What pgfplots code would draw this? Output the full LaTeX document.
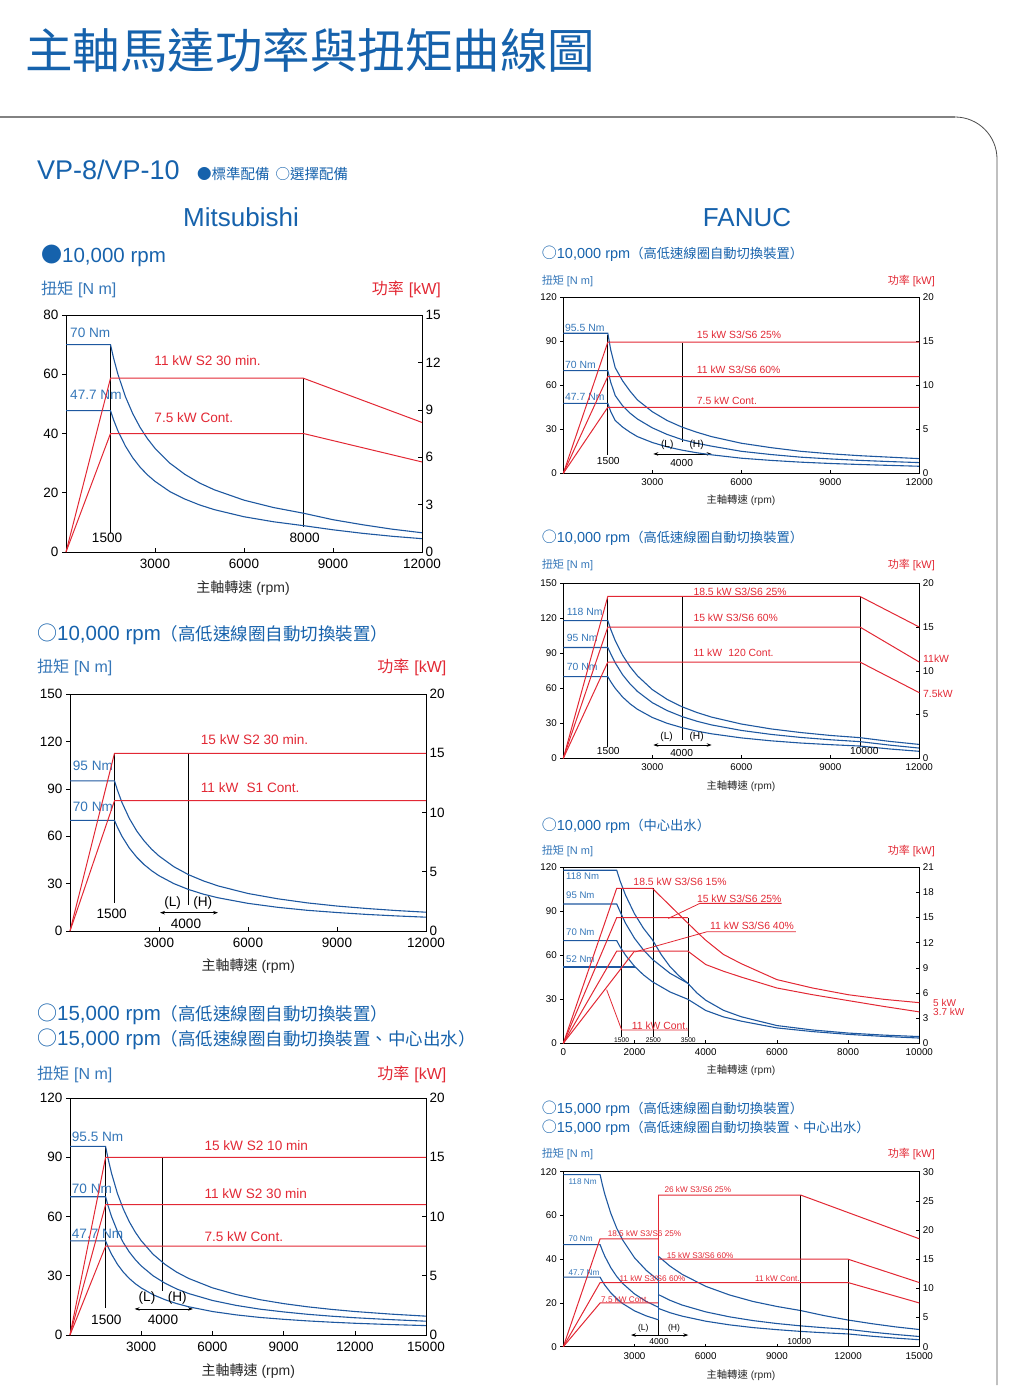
\documentclass[border=0pt]{standalone}
\usepackage{fontspec}
\setmainfont{Liberation Sans}
\newfontfamily\cjk{Noto Sans CJK TC}
\usepackage{graphicx}
\usepackage{pgfplots}
\pgfplotsset{compat=1.18}
\usetikzlibrary{arrows.meta}
\definecolor{tblue}{RGB}{22,98,172}
\definecolor{lblue}{RGB}{52,118,184}
\definecolor{cblue}{RGB}{30,88,160}
\definecolor{cred}{RGB}{226,40,52}
\definecolor{axgray}{RGB}{40,40,40}
\definecolor{frgray}{RGB}{130,130,130}
\newcommand{\fs}[1]{\fontsize{#1pt}{#1pt}\selectfont}
\tikzset{
  L/.style={inner sep=0pt, font=\fs{#1}, anchor=base west, yshift={-0.36*#1pt}},
  C/.style={inner sep=0pt, font=\fs{#1}, anchor=base, yshift={-0.36*#1pt}},
  B/.style={inner sep=0pt, anchor=base west},
  BE/.style={inner sep=0pt, anchor=base east},
  BC/.style={inner sep=0pt, anchor=base},
}
\pgfplotsset{
  every axis/.append style={scale only axis, clip=false, anchor=south west,
    scaled ticks=false,
    axis line style={line width=0.7pt, black},
    every tick/.append style={line width=0.6pt, black},
    /pgf/number format/1000 sep={},
    /pgf/number format/assume math mode=true},
  mit/.style={width=356pt, height=237pt, major tick length=4pt,
    ticklabel style={font=\fs{13.5}}, xticklabel style={yshift=-4pt}},
  fan/.style={width=356pt, height=176pt, major tick length=3pt,
    ticklabel style={font=\fs{9.8}}, xticklabel style={yshift=-2pt}},
  lax/.style={tick pos=left, xtick align=inside, ytick align=outside},
  rax/.style={axis x line=none, axis y line*=right, ytick align=inside},
  bl/.style={cblue, line width=1.1pt},
  rd/.style={cred, line width=1pt},
  bk/.style={black, line width=0.8pt},
  arr/.style={black, line width=0.7pt, arrows={Stealth[length=5pt,width=3.5pt]-Stealth[length=5pt,width=3.5pt]}},
}
\begin{document}
\begin{tikzpicture}
\path[use as bounding box] (0pt,0pt) rectangle (1019pt,-1399pt);
% ---------- page decoration ----------
\node[B, text=tblue, font={\cjk\fs{47.5}}] at (25pt,-68.5pt) {主軸馬達功率與扭矩曲線圖};
\draw[line width=1.6pt, frgray] (0pt,-117pt) -- (955pt,-117pt);
\draw[line width=0.8pt, black!70] (955pt,-117pt) arc[start angle=90,end angle=0,radius=42pt] -- (997pt,-1385pt);
\node[B, text=tblue, font=\fs{27}] at (37pt,-180pt) {VP-8/VP-10};
\node[B, text=tblue, font={\cjk\fs{14.5}}] at (197pt,-179pt) {●標準配備\hspace{6pt}○選擇配備};
\node[BC, text=tblue, font=\fs{26}] at (241pt,-226pt) {Mitsubishi};
\node[BC, text=tblue, font=\fs{26}] at (747pt,-226pt) {FANUC};

% ================= Panel 1 =================
\node[B, text=tblue] at (41pt,-262.5pt) {{\cjk\fs{21}●}{\fs{20.5}10,000 rpm}};
\node[B, text=lblue] at (41pt,-294pt) {\fs{16}{\cjk 扭矩}\hspace{5pt}[N m]};
\node[BE, text=cred] at (441pt,-294pt) {\fs{16}{\cjk 功率}\hspace{5pt}[kW]};
\node[BC, text=axgray] at (243pt,-592pt) {\fs{14}{\cjk 主軸轉速}\hspace{4pt}(rpm)};
\begin{axis}[mit, lax, at={(66pt,-552pt)},
  xmin=0, xmax=12000, ymin=0, ymax=80,
  xtick={3000,6000,9000,12000}, ytick={0,20,40,60,80}]
\addplot[bk] coordinates {(1500,70) (1500,6.4)};
\addplot[bk] coordinates {(8000,58.7) (8000,8.4)};
\addplot[bl] coordinates {(0,70) (1500,70) (1600,65.6) (1750,60) (2000,52.5) (2250,46.7) (2500,42) (2750,38.2) (3000,35) (3500,30) (4000,26.25) (4500,23.3) (5000,21) (6000,17.5) (7000,15) (8000,13.1) (9000,10.9) (10000,9.2) (11000,7.7) (12000,6.5)};
\addplot[bl] coordinates {(0,47.7) (1500,47.7) (1600,44.7) (1750,40.9) (2000,35.8) (2250,31.8) (2500,28.6) (2750,26) (3000,23.85) (3500,20.4) (4000,17.9) (4500,15.9) (5000,14.3) (6000,11.9) (7000,10.2) (8000,8.9) (9000,7.5) (10000,6.3) (11000,5.3) (12000,4.5)};
\node[L=13.6, text=lblue] at (axis cs:135,73.9) {70 Nm};
\node[L=13.6, text=lblue] at (axis cs:135,53) {47.7 Nm};
\node[L=13.6, text=cred] at (axis cs:2975,64.5) {11 kW S2 30 min.};
\node[L=13.6, text=cred] at (axis cs:2975,45.2) {7.5 kW Cont.};
\node[C=13.6] at (axis cs:1386,4.8) {1500};
\node[C=13.6] at (axis cs:8045,4.8) {8000};
\end{axis}
\begin{axis}[mit, rax, at={(66pt,-552pt)},
  xmin=0, xmax=12000, ymin=0, ymax=15, ytick={0,3,6,9,12,15}]
\addplot[rd] coordinates {(0,0) (1500,11) (8000,11) (12000,8.2)};
\addplot[rd] coordinates {(0,0) (1500,7.5) (8000,7.5) (12000,5.7)};
\end{axis}

% ================= Panel 2 =================
\node[B, text=tblue] at (37pt,-640pt) {{\cjk\fs{20}○}{\fs{20.5}10,000 rpm}{\cjk\fs{17.5}（高低速線圈自動切換裝置）}};
\node[B, text=lblue] at (37pt,-672.5pt) {\fs{16}{\cjk 扭矩}\hspace{5pt}[N m]};
\node[BE, text=cred] at (446.5pt,-672.5pt) {\fs{16}{\cjk 功率}\hspace{5pt}[kW]};
\node[BC, text=axgray] at (248.3pt,-970.5pt) {\fs{14}{\cjk 主軸轉速}\hspace{4pt}(rpm)};
\begin{axis}[mit, lax, at={(70pt,-931pt)},
  xmin=0, xmax=12000, ymin=0, ymax=150,
  xtick={3000,6000,9000,12000}, ytick={0,30,60,90,120,150}]
\addplot[bk] coordinates {(1500,112.5) (1500,17.5)};
\addplot[bk] coordinates {(4000,112.5) (4000,16.5)};
\addplot[arr] coordinates {(3034,11.6) (4989,11.6)};
\addplot[bl] coordinates {(0,95) (1500,95) (1600,89.1) (1750,81.4) (2000,71.25) (2250,63.3) (2500,57) (2750,51.8) (3000,47.5) (3500,40.7) (4000,35.6) (4500,31.7) (5000,28.5) (6000,23.75) (7000,20.4) (8000,17.8) (9000,15.8) (10000,14.25) (11000,12.95) (12000,11.9)};
\addplot[bl] coordinates {(0,70) (1500,70) (1600,65.6) (1750,60) (2000,52.5) (2250,46.7) (2500,42) (2750,38.2) (3000,35) (3500,30) (4000,26.25) (4500,23.3) (5000,21) (6000,17.5) (7000,15) (8000,13.1) (9000,11.7) (10000,10.5) (11000,9.55) (12000,8.75)};
\node[L=13.6, text=lblue] at (axis cs:91,104.4) {95 Nm};
\node[L=13.6, text=lblue] at (axis cs:91,78.7) {70 Nm};
\node[L=13.6, text=cred] at (axis cs:4406,120.9) {15 kW S2 30 min.};
\node[L=13.6, text=cred] at (axis cs:4406,90.9) {11 kW\hspace{0.6em}S1 Cont.};
\node[C=13.6] at (axis cs:1405,11.2) {1500};
\node[C=13.6] at (axis cs:3462,18.5) {(L)};
\node[C=13.6] at (axis cs:4473,18.5) {(H)};
\node[C=13.6] at (axis cs:3910,4.9) {4000};
\end{axis}
\begin{axis}[mit, rax, at={(70pt,-931pt)},
  xmin=0, xmax=12000, ymin=0, ymax=20, ytick={0,5,10,15,20}]
\addplot[rd] coordinates {(0,0) (1500,15) (12000,15)};
\addplot[rd] coordinates {(0,0) (1500,11) (12000,11)};
\end{axis}

% ================= Panel 3 =================
\node[B, text=tblue] at (37pt,-1020pt) {{\cjk\fs{20}○}{\fs{20.5}15,000 rpm}{\cjk\fs{17.5}（高低速線圈自動切換裝置）}};
\node[B, text=tblue] at (37pt,-1045pt) {{\cjk\fs{20}○}{\fs{20.5}15,000 rpm}{\cjk\fs{17.5}（高低速線圈自動切換裝置、中心出水）}};
\node[B, text=lblue] at (37pt,-1079pt) {\fs{16}{\cjk 扭矩}\hspace{5pt}[N m]};
\node[BE, text=cred] at (446.5pt,-1079pt) {\fs{16}{\cjk 功率}\hspace{5pt}[kW]};
\node[BC, text=axgray] at (248.3pt,-1375.5pt) {\fs{14}{\cjk 主軸轉速}\hspace{4pt}(rpm)};
\begin{axis}[mit, lax, at={(70pt,-1335pt)},
  xmin=0, xmax=15000, ymin=0, ymax=120,
  xtick={3000,6000,9000,12000,15000}, ytick={0,30,60,90,120}]
\addplot[bk] coordinates {(1500,95.5) (1500,13.7)};
\addplot[bk] coordinates {(3900,90) (3900,22.1)};
\addplot[arr] coordinates {(2725,13.2) (5183,13.2)};
\addplot[bl] coordinates {(0,95.5) (1500,95.5) (1600,89.5) (1750,81.9) (2000,71.6) (2250,63.7) (2500,57.3) (2750,52.1) (3000,47.75) (3500,40.9) (4000,35.8) (4500,31.8) (5000,28.65) (6000,23.9) (7000,20.5) (8000,17.9) (9000,15.9) (10000,14.3) (11000,13) (12000,11.9) (13500,10.6) (15000,9.55)};
\addplot[bl] coordinates {(0,70) (1500,70) (1600,65.6) (1750,60) (2000,52.5) (2250,46.7) (2500,42) (2750,38.2) (3000,35) (3500,30) (4000,26.25) (4500,23.3) (5000,21) (6000,17.5) (7000,15) (8000,13.1) (9000,11.7) (10000,10.5) (11000,9.55) (12000,8.75) (13500,7.8) (15000,7)};
\addplot[bl] coordinates {(0,47.7) (1500,47.7) (1600,44.7) (1750,40.9) (2000,35.8) (2250,31.8) (2500,28.6) (2750,26) (3000,23.85) (3500,20.4) (4000,17.9) (4500,15.9) (5000,14.3) (6000,11.9) (7000,10.2) (8000,8.9) (9000,7.95) (10000,7.15) (11000,6.5) (12000,5.95) (13500,5.3) (15000,4.77)};
\node[L=13.6, text=lblue] at (axis cs:72,100.6) {95.5 Nm};
\node[L=13.6, text=lblue] at (axis cs:72,73.9) {70 Nm};
\node[L=13.6, text=lblue] at (axis cs:72,51.6) {47.7 Nm};
\node[L=13.6, text=cred] at (axis cs:5659,95.9) {15 kW S2 10 min};
\node[L=13.6, text=cred] at (axis cs:5659,71.6) {11 kW S2 30 min};
\node[L=13.6, text=cred] at (axis cs:5659,50) {7.5 kW Cont.};
\node[C=13.6] at (axis cs:1531,7.8) {1500};
\node[C=13.6] at (axis cs:3918,7.8) {4000};
\node[C=13.6] at (axis cs:3244,19.2) {(L)};
\node[C=13.6] at (axis cs:4522,19.2) {(H)};
\end{axis}
\begin{axis}[mit, rax, at={(70pt,-1335pt)},
  xmin=0, xmax=15000, ymin=0, ymax=20, ytick={0,5,10,15,20}]
\addplot[rd] coordinates {(0,0) (1500,15) (15000,15)};
\addplot[rd] coordinates {(0,0) (1500,11) (15000,11)};
\addplot[rd] coordinates {(0,0) (1500,7.5) (15000,7.5)};
\end{axis}

% ================= Panel 4 (FANUC 1) =================
\node[B, text=tblue] at (541.7pt,-258.3pt) {{\cjk\fs{15}○}{\fs{14.5}10,000 rpm}{\cjk\fs{13.3}（高低速線圈自動切換裝置）}};
\node[B, text=lblue] at (541.7pt,-284.5pt) {\fs{11}{\cjk 扭矩}\hspace{3pt}[N m]};
\node[BE, text=cred] at (935pt,-284.5pt) {\fs{11}{\cjk 功率}\hspace{3pt}[kW]};
\node[BC, text=axgray] at (741pt,-503pt) {\fs{10.3}{\cjk 主軸轉速}\hspace{3pt}(rpm)};
\begin{axis}[fan, lax, at={(563.3pt,-473.3pt)},
  xmin=0, xmax=12000, ymin=0, ymax=120,
  xtick={3000,6000,9000,12000}, ytick={0,30,60,90,120}]
\addplot[bk] coordinates {(1500,94.5) (1500,12.5)};
\addplot[bk] coordinates {(4000,89) (4000,21.6)};
\addplot[arr] coordinates {(3034,13.2) (5000,13.2)};
\addplot[bl] coordinates {(0,95.5) (1500,95.5) (1600,84) (1750,72) (2000,63) (2250,56) (2500,50) (3000,42) (3500,36) (4000,31.5) (4500,28) (5000,25) (6000,20.5) (7000,17.5) (8000,15) (9000,13.3) (10000,12) (11000,11) (12000,10)};
\addplot[bl] coordinates {(0,70) (1500,70) (1600,62) (1750,53) (2000,46) (2250,41) (2500,37) (3000,31) (3500,26.5) (4000,23) (4500,20.5) (5000,18.5) (6000,15) (7000,12.8) (8000,11) (9000,9.8) (10000,8.8) (11000,8) (12000,7.3)};
\addplot[bl] coordinates {(0,47.7) (1500,47.7) (1600,42) (1750,36) (2000,31.5) (2250,28) (2500,25) (3000,21) (3500,18) (4000,15.8) (4500,14) (5000,12.6) (6000,10.3) (7000,8.8) (8000,7.6) (9000,6.7) (10000,6) (11000,5.4) (12000,4.8)};
\node[L=10.4, text=lblue] at (axis cs:56,98.9) {95.5 Nm};
\node[L=10.4, text=lblue] at (axis cs:56,73.9) {70 Nm};
\node[L=10.4, text=lblue] at (axis cs:56,52.3) {47.7 Nm};
\node[L=10.4, text=cred] at (axis cs:4494,94.8) {15 kW S3/S6 25\%};
\node[L=10.4, text=cred] at (axis cs:4494,70.9) {11 kW S3/S6 60\%};
\node[L=10.4, text=cred] at (axis cs:4494,49.3) {7.5 kW Cont.};
\node[C=10.2] at (axis cs:1517,8.6) {1500};
\node[C=10.2] at (axis cs:3989,7.3) {4000};
\node[C=10.2] at (axis cs:3506,20) {(L)};
\node[C=10.2] at (axis cs:4494,20) {(H)};
\end{axis}
\begin{axis}[fan, rax, at={(563.3pt,-473.3pt)},
  xmin=0, xmax=12000, ymin=0, ymax=20, ytick={0,5,10,15,20}]
\addplot[rd] coordinates {(0,0) (1500,14.9) (12000,14.9)};
\addplot[rd] coordinates {(0,0) (1500,11) (12000,11)};
\addplot[rd] coordinates {(0,0) (1500,7.5) (12000,7.5)};
\end{axis}

% ================= Panel 5 (FANUC 2) =================
\node[B, text=tblue] at (541.7pt,-542.7pt) {{\cjk\fs{15}○}{\fs{14.5}10,000 rpm}{\cjk\fs{13.3}（高低速線圈自動切換裝置）}};
\node[B, text=lblue] at (541.7pt,-568pt) {\fs{11}{\cjk 扭矩}\hspace{3pt}[N m]};
\node[BE, text=cred] at (935pt,-568pt) {\fs{11}{\cjk 功率}\hspace{3pt}[kW]};
\node[BC, text=axgray] at (741pt,-789pt) {\fs{10.3}{\cjk 主軸轉速}\hspace{3pt}(rpm)};
\node[B, text=cred, font=\fs{10.4}] at (923pt,-662pt) {11kW};
\node[B, text=cred, font=\fs{10.4}] at (923pt,-697pt) {7.5kW};
\begin{axis}[fan, lax, at={(563.3pt,-758.3pt)}, height=175pt,
  xmin=0, xmax=12000, ymin=0, ymax=150,
  xtick={3000,6000,9000,12000}, ytick={0,30,60,90,120,150}]
\addplot[bk] coordinates {(1500,138) (1500,10)};
\addplot[bk] coordinates {(4000,138) (4000,15.7)};
\addplot[bk] coordinates {(10000,138) (10000,10)};
\addplot[arr] coordinates {(3034,11.4) (5000,11.4)};
\addplot[bl] coordinates {(0,118) (1500,118) (1600,110.4) (1750,100.9) (2000,88.3) (2250,78.5) (2500,70.7) (3000,58.9) (3500,50.5) (4000,44.2) (4500,39.3) (5000,35.3) (6000,29.4) (7000,25.2) (8000,22.1) (9000,19.6) (10000,17.7) (11000,14.5) (12000,11.9)};
\addplot[bl] coordinates {(0,95) (1500,95) (1600,89.5) (1750,81.8) (2000,71.6) (2250,63.7) (2500,57.3) (3000,47.7) (3500,40.9) (4000,35.8) (4500,31.8) (5000,28.6) (6000,23.9) (7000,20.5) (8000,17.9) (9000,15.9) (10000,14.3) (11000,11.3) (12000,8.75)};
\addplot[bl] coordinates {(0,70) (1500,70) (1600,65.6) (1750,60) (2000,52.5) (2250,46.7) (2500,42) (3000,35) (3500,30) (4000,26.3) (4500,23.3) (5000,21) (6000,17.5) (7000,15) (8000,13.1) (9000,11.7) (10000,10.5) (11000,8) (12000,6)};
\node[L=10.4, text=lblue] at (axis cs:112,125.7) {118 Nm};
\node[L=10.4, text=lblue] at (axis cs:112,103.4) {95 Nm};
\node[L=10.4, text=lblue] at (axis cs:112,78.6) {70 Nm};
\node[L=10.4, text=cred] at (axis cs:4382,142.9) {18.5 kW S3/S6 25\%};
\node[L=10.4, text=cred] at (axis cs:4382,120.6) {15 kW S3/S6 60\%};
\node[L=10.4, text=cred] at (axis cs:4382,90.6) {11 kW\hspace{0.6em}120 Cont.};
\node[C=10.2] at (axis cs:1517,6.3) {1500};
\node[C=10.2] at (axis cs:3989,4.3) {4000};
\node[C=10.2] at (axis cs:10146,6.3) {10000};
\node[C=10.2] at (axis cs:3483,19.1) {(L)};
\node[C=10.2] at (axis cs:4494,19.1) {(H)};
\end{axis}
\begin{axis}[fan, rax, at={(563.3pt,-758.3pt)}, height=175pt,
  xmin=0, xmax=12000, ymin=0, ymax=20, ytick={0,5,10,15,20}]
\addplot[rd] coordinates {(0,0) (1500,18.5) (10000,18.5) (12000,15)};
\addplot[rd] coordinates {(0,0) (1500,15) (10000,15) (12000,11)};
\addplot[rd] coordinates {(0,0) (1500,11) (10000,11) (12000,7.5)};
\end{axis}

% ================= Panel 6 (FANUC 3) =================
\node[B, text=tblue] at (541.7pt,-830pt) {{\cjk\fs{15}○}{\fs{14.5}10,000 rpm}{\cjk\fs{13.3}（中心出水）}};
\node[B, text=lblue] at (541.7pt,-854pt) {\fs{11}{\cjk 扭矩}\hspace{3pt}[N m]};
\node[BE, text=cred] at (935pt,-854pt) {\fs{11}{\cjk 功率}\hspace{3pt}[kW]};
\node[BC, text=axgray] at (741pt,-1073pt) {\fs{10.3}{\cjk 主軸轉速}\hspace{3pt}(rpm)};
\node[B, text=cred, font=\fs{10}] at (933pt,-1006.5pt) {5 kW};
\node[B, text=cred, font=\fs{10}] at (933pt,-1015.8pt) {3.7 kW};
\begin{axis}[fan, lax, at={(563.3pt,-1043.3pt)},
  xmin=0, xmax=10000, ymin=0, ymax=120,
  xtick={0,2000,4000,6000,8000,10000}, ytick={0,30,60,90,120}]
\addplot[bk] coordinates {(1640,105.7) (1640,4.5)};
\addplot[bk] coordinates {(2530,105.7) (2530,4.5)};
\addplot[bk] coordinates {(3510,85.7) (3510,4.5)};
\addplot[bl] coordinates {(0,118) (1500,118) (1600,110.4) (1750,100.9) (2000,88.3) (2250,78.5) (2500,70.7) (2750,60.5) (3000,52.2) (3250,46) (3500,40.9) (3750,34.4) (4000,29.4) (4500,22.5) (5000,18.1) (6000,12.1) (7000,9.1) (8000,7) (9000,5.6) (10000,4.6)};
\addplot[bl] coordinates {(0,95) (1500,95) (1600,89.5) (1750,81.8) (2000,71.6) (2250,63.7) (2500,57.3) (3000,47.7) (3500,40.9)};
\addplot[bl] coordinates {(0,70) (1500,70) (1600,65.6) (1750,60) (2000,52.5) (2250,46.7) (2500,42) (3000,35) (3500,30) (4000,22.4) (4500,18) (5000,15.1) (6000,10.5) (7000,8) (8000,6.1) (9000,4.7) (10000,3.6)};
\addplot[bl] coordinates {(0,52) (2000,52)};
\node[L=9.6, text=lblue] at (axis cs:75,114.1) {118 Nm};
\node[L=9.6, text=lblue] at (axis cs:75,101.1) {95 Nm};
\node[L=9.6, text=lblue] at (axis cs:75,76.1) {70 Nm};
\node[L=9.6, text=lblue] at (axis cs:75,57.5) {52 Nm};
\node[C=6.7] at (axis cs:1640,2.3) {1500};
\node[C=6.7] at (axis cs:2530,2.3) {2500};
\node[C=6.7] at (axis cs:3510,2.3) {3500};
\end{axis}
\begin{axis}[fan, rax, at={(563.3pt,-1043.3pt)},
  xmin=0, xmax=10000, ymin=0, ymax=21, ytick={0,3,6,9,12,15,18,21}]
\addplot[rd] coordinates {(0,0) (1500,18.5) (2500,18.5) (3700,13.5) (4000,12.3) (4500,10.6) (5000,9.5) (6000,7.6) (7000,6.6) (8000,5.8) (9000,5.25) (10000,4.85)};
\addplot[rd] coordinates {(0,0) (1500,15) (3500,15)};
\addplot[rd] coordinates {(0,0) (1500,11) (3500,11) (4000,9.4) (4500,8.6) (5000,7.9) (6000,6.6) (7000,5.8) (8000,5.1) (9000,4.4) (10000,3.75)};
\addplot[rd] coordinates {(0,0) (2000,11)};
\addplot[rd, line width=0.8pt] coordinates {(2949,14.9) (3839,16.7) (6133,16.7)};
\addplot[rd, line width=0.8pt] coordinates {(2013,10.9) (4026,13.3) (6536,13.3)};
\addplot[rd, line width=0.8pt] coordinates {(1217,6.4) (1639,1.6) (3511,1.6)};
\node[L=10.4, text=cred] at (axis cs:1966,19.3) {18.5 kW S3/S6 15\%};
\node[L=10.4, text=cred] at (axis cs:3750,17.2) {15 kW S3/S6 25\%};
\node[L=10.4, text=cred] at (axis cs:4120,14) {11 kW S3/S6 40\%};
\node[L=10.4, text=cred] at (axis cs:1919,2.15) {11 kW Cont.};
\end{axis}

% ================= Panel 7 (FANUC 4) =================
\node[B, text=tblue] at (541.7pt,-1113pt) {{\cjk\fs{15}○}{\fs{14.5}15,000 rpm}{\cjk\fs{13.3}（高低速線圈自動切換裝置）}};
\node[B, text=tblue] at (541.7pt,-1132.5pt) {{\cjk\fs{15}○}{\fs{14.5}15,000 rpm}{\cjk\fs{13.3}（高低速線圈自動切換裝置、中心出水）}};
\node[B, text=lblue] at (541.7pt,-1157.5pt) {\fs{11}{\cjk 扭矩}\hspace{3pt}[N m]};
\node[BE, text=cred] at (935pt,-1157.5pt) {\fs{11}{\cjk 功率}\hspace{3pt}[kW]};
\node[BC, text=axgray] at (741pt,-1378pt) {\fs{10.3}{\cjk 主軸轉速}\hspace{3pt}(rpm)};
\begin{axis}[fan, lax, at={(563.3pt,-1346.7pt)}, height=175pt,
  xmin=0, xmax=15000, ymin=0, ymax=120,
  xtick={3000,6000,9000,12000,15000}, ytick={0,30,60,90,120},
  yticklabels={0,20,40,60,120}]
\addplot[bl] coordinates {(0,118) (1550,118) (1650,110.8) (1750,104.5) (2000,91.5) (2250,81.3) (2500,73.2) (3000,61) (3500,52.3) (4000,45.7)};
\addplot[bl] coordinates {(0,70) (1550,70) (1650,65.8) (1750,62) (2000,54.25) (2250,48.2) (2500,43.4) (3000,36.2) (3500,31) (4000,27.1)};
\addplot[bl] coordinates {(0,47.7) (1550,47.7) (1650,44.8) (1750,42.2) (2000,37) (2250,32.9) (2500,29.6) (3000,24.6) (3500,21.1) (4000,18.5)};
\addplot[bl] coordinates {(4000,62.1) (4500,55.2) (5000,49.7) (6000,41.4) (7000,35.5) (8000,31) (9000,27.6) (10000,24.8) (11000,21.3) (12000,18.3) (13000,15.8) (14000,13.6) (15000,11.8)};
\addplot[bl] coordinates {(4000,35.8) (4500,31.8) (5000,28.6) (6000,23.9) (7000,20.5) (8000,17.9) (9000,15.9) (10000,14.3) (11000,13) (12000,11.9) (13000,10) (14000,8.4) (15000,7)};
\addplot[bl] coordinates {(4000,26.3) (4500,23.3) (5000,21) (6000,17.5) (7000,15) (8000,13.1) (9000,11.7) (10000,10.5) (11000,9.55) (12000,8.75) (13000,7.2) (14000,5.9) (15000,4.8)};
\end{axis}
\begin{axis}[fan, rax, at={(563.3pt,-1346.7pt)}, height=175pt,
  xmin=0, xmax=15000, ymin=0, ymax=30, ytick={0,5,10,15,20,25,30}]
\addplot[bk] coordinates {(10000,26) (10000,1.4)};
\addplot[bk] coordinates {(12000,15) (12000,0)};
\addplot[bk] coordinates {(4000,4.6) (4000,2)};
\addplot[arr] coordinates {(2851,2) (5267,2)};
\addplot[rd] coordinates {(0,0) (1550,18.5) (4000,18.5)};
\addplot[rd] coordinates {(0,0) (1550,11) (12000,11) (15000,7.5)};
\addplot[rd] coordinates {(0,0) (1550,7.5) (4000,7.5)};
\addplot[rd] coordinates {(4000,7.5) (4000,26)};
\addplot[rd] coordinates {(4000,26) (10000,26) (15000,18.5)};
\addplot[rd] coordinates {(4000,15) (12000,15) (15000,11)};
\addplot[bl] coordinates {(4000,4.6) (4000,15.5)};
\node[L=8.2, text=lblue] at (axis cs:211,28.4) {118 Nm};
\node[L=8.2, text=lblue] at (axis cs:211,18.5) {70 Nm};
\node[L=8.2, text=lblue] at (axis cs:211,12.7) {47.7 Nm};
\node[L=8.2, text=cred] at (axis cs:4256,26.9) {26 kW S3/S6 25\%};
\node[L=8.2, text=cred] at (axis cs:1868,19.4) {18.5 kW S3/S6 25\%};
\node[L=8.2, text=cred] at (axis cs:4354,15.7) {15 kW S3/S6 60\%};
\node[L=8.2, text=cred] at (axis cs:2360,11.7) {11 kW S3/S6 60\%};
\node[L=8.2, text=cred] at (axis cs:8076,11.7) {11 kW Cont.};
\node[L=8.2, text=cred] at (axis cs:1587,8.1) {7.5 kW Cont.};
\node[C=8.6] at (axis cs:4031,0.86) {4000};
\node[C=8.6] at (axis cs:9944,0.86) {10000};
\node[C=8.6] at (axis cs:3371,3.3) {(L)};
\node[C=8.6] at (axis cs:4663,3.3) {(H)};
\end{axis}
\end{tikzpicture}
\end{document}
